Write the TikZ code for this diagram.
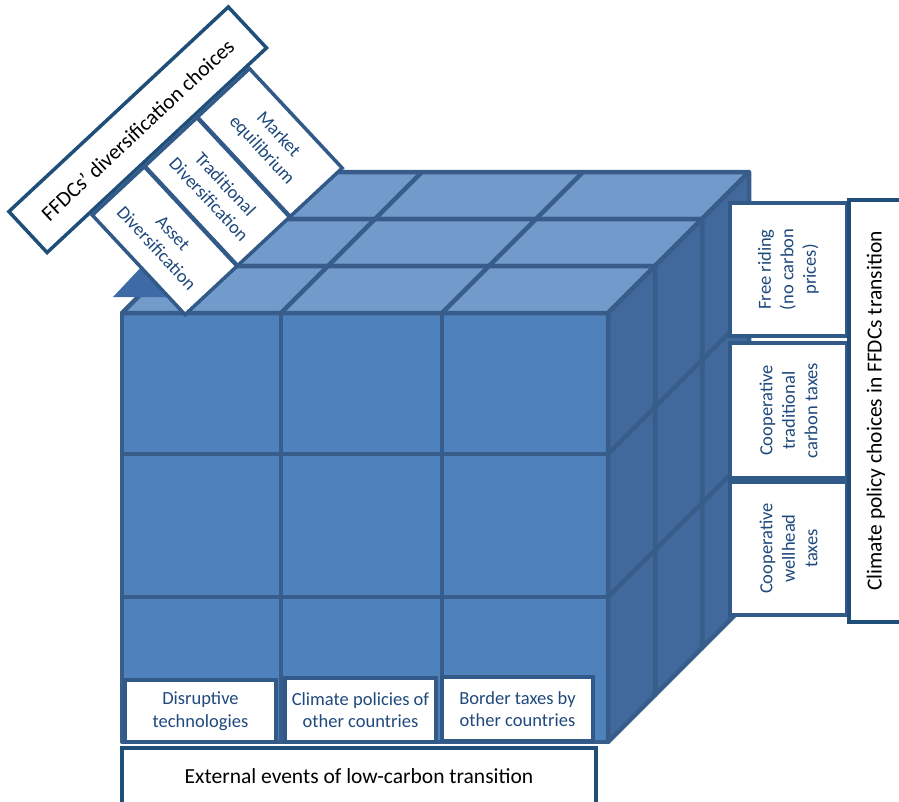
\documentclass[tikz,border=0pt]{standalone}
\usepackage{fontspec}
\setmainfont{Carlito}
\usetikzlibrary{calc}

\definecolor{frontblue}{HTML}{4F81BD}
\definecolor{topblue}{HTML}{729ACA}
\definecolor{sideblue}{HTML}{41699B}
\definecolor{edgeblue}{HTML}{385D8A}
\definecolor{boxline}{HTML}{325A89}
\definecolor{darkline}{HTML}{1F4E79}
\definecolor{txtblue}{HTML}{1F497D}
\definecolor{tipblue}{HTML}{3E6BA5}

\tikzset{
	cubeedge/.style={draw=edgeblue, line width=4.5pt, line join=round},
	optbox/.style={draw=boxline, line width=3.5pt, fill=white, text=txtblue, align=center,
		font=\fontsize{18.5}{22.5}\selectfont, inner sep=1pt},
	titlebox/.style={draw=darkline, line width=3.5pt, fill=white, text=black, align=center,
		font=\fontsize{21.5}{25}\selectfont, inner sep=1pt}
}

% one slab of the cube, #1 = how far back it sits
\def\slab#1{
	\begin{scope}[shift={(#1*47,-#1*47)}]
		\draw[cubeedge, fill=frontblue] (122, 313) rectangle (608, 742);
		\foreach \x in {281, 442} \draw[cubeedge] (\x, 313) -- (\x, 742);
		\foreach \y in {454, 597} \draw[cubeedge] (122, \y) -- (608, \y);
		\draw[cubeedge, fill=topblue] (122, 313) -- (608, 313) -- (655, 266) -- (169, 266) -- cycle;
		\foreach \x in {281, 442} \draw[cubeedge] (\x, 313) -- ++(47, -47);
		\draw[cubeedge, fill=sideblue] (608, 313) -- (655, 266) -- (655, 695) -- (608, 742) -- cycle;
		\foreach \y in {454, 597} \draw[cubeedge] (608, \y) -- ++(47, -47);
	\end{scope}
}

\begin{document}
\begin{tikzpicture}[x=1pt, y=-1pt]
		%%%%% START %%%%%
		\useasboundingbox (0, 0) rectangle (899, 801);
		\clip (0, 0) rectangle (899, 801);
		
		% the cube, back to front
		\slab{2}
		\slab{1}
		\slab{0}
		
		% pointer under the left label
		\fill[tipblue] (113, 297) -- (145, 263) -- (182, 297) -- cycle;
		
		% diversification choices
		\node[titlebox, rotate=43, minimum width=300pt, minimum height=56pt, anchor=south west] (ffdc) at (47, 255) {FFDCs’ diversification choices};
		\node[optbox, rotate=-47, minimum width=136pt, minimum height=71pt, anchor=south west] (asset) at ($(ffdc.south west)!0.193!(ffdc.south east)$) {Asset\\Diversification};
		\node[optbox, rotate=-47, minimum width=136pt, minimum height=71pt, anchor=south west] (trad) at ($(ffdc.south west)!0.43!(ffdc.south east)$) {Traditional\\Diversification};
		\node[optbox, rotate=-47, minimum width=136pt, minimum height=71pt, anchor=south west] (market) at ($(ffdc.south west)!0.667!(ffdc.south east)$) {Market\\equilibrium};
		
		% climate policy choices
		\node[optbox, rotate=90, minimum width=133pt, minimum height=117pt] (free) at (788.5, 269.5) {Free riding\\(no carbon\\prices)};
		\node[optbox, rotate=90, minimum width=135pt, minimum height=117pt] (coopcarbon) at (788.5, 410.5) {Cooperative\\traditional\\carbon taxes};
		\node[optbox, rotate=90, minimum width=133pt, minimum height=117pt] (coopwell) at (788.5, 548.5) {Cooperative\\wellhead\\taxes};
		\node[titlebox, rotate=90, minimum width=422pt, minimum height=54pt] (policy) at (876, 411) {Climate policy choices in FFDCs transition};
		
		% external events
		\node[optbox, minimum width=151pt, minimum height=62pt] (disrupt) at (200.5, 711) {Disruptive\\technologies};
		\node[optbox, minimum width=151pt, minimum height=64pt] (othpol) at (360.5, 710) {Climate policies of\\other countries};
		\node[optbox, minimum width=151pt, minimum height=64pt] (border) at (517.5, 709) {Border taxes by\\other countries};
		\node[titlebox, minimum width=474pt, minimum height=56pt] (external) at (359, 776) {External events of low-carbon transition};
		
		%%%%% END %%%%%
	\end{tikzpicture}
\end{document}
